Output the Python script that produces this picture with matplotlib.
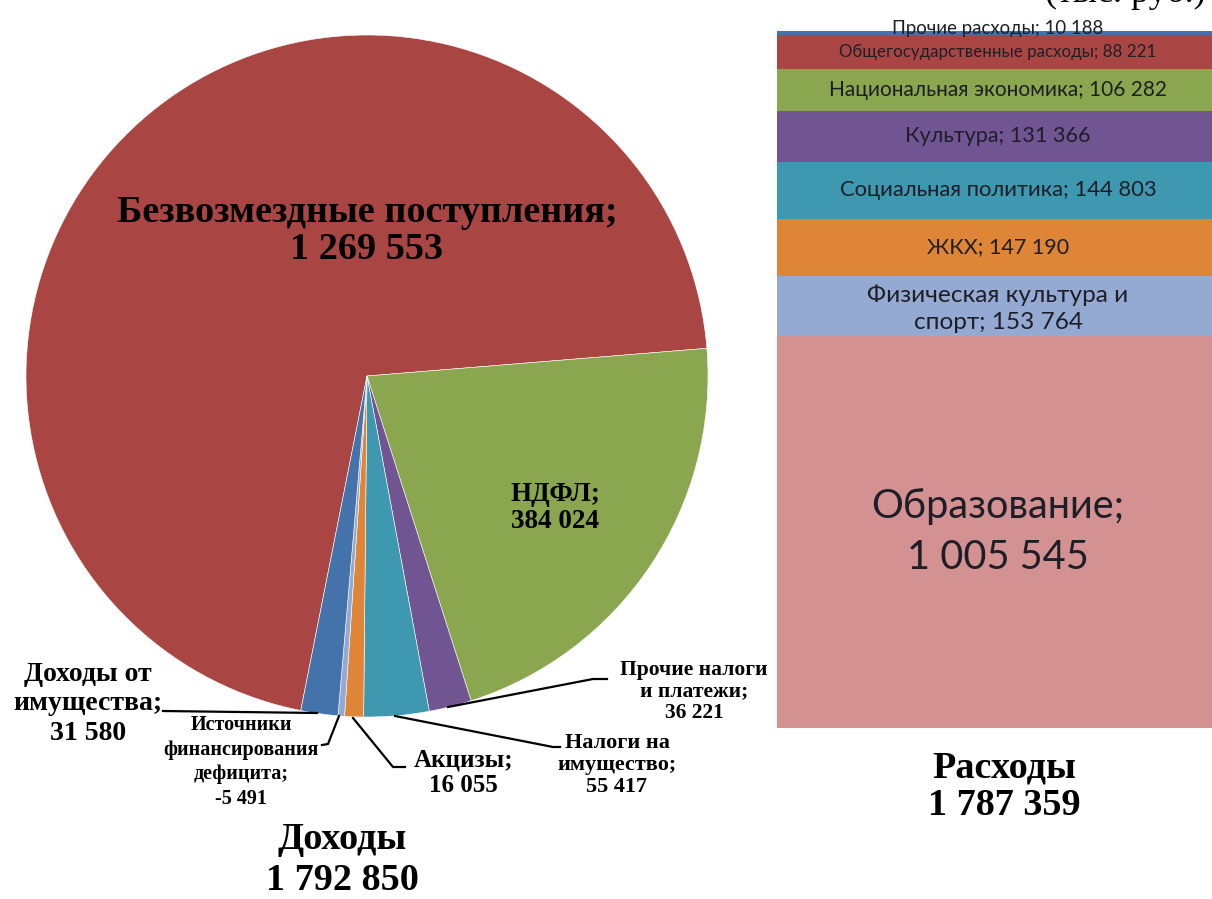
import numpy as np
import matplotlib
matplotlib.use("Agg")
import matplotlib.pyplot as plt

W, H = 1212, 899

# ---- data: income (pie) ----
inc_labels = ["Безвозмездные поступления", "НДФЛ", "Прочие налоги и платежи",
              "Налоги на имущество", "Акцизы", "Источники финансирования дефицита",
              "Доходы от имущества"]
inc_values = [1269553, 384024, 36221, 55417, 16055, -5491, 31580]
inc_colors = ["#A94643", "#8AA64F", "#705592", "#3E98AF", "#DE8538", "#93A9D3", "#4473AB"]
inc_total = 1792850

# ---- data: expenses (stacked bar, bottom to top) ----
exp_labels = ["Образование", "Физическая культура и спорт", "ЖКХ", "Социальная политика",
              "Культура", "Национальная экономика", "Общегосударственные расходы",
              "Прочие расходы"]
exp_values = [1005545, 153764, 147190, 144803, 131366, 106282, 88221, 10188]
exp_colors = ["#D39191", "#95AAD2", "#DE8538", "#3E98AF", "#705592", "#8AA64F", "#A94643", "#4473AB"]
exp_total = 1787359

def fmt(v):
    s = f"{abs(v):,}".replace(",", " ")
    return ("-" if v < 0 else "") + s

fig = plt.figure(figsize=(W / 100, H / 100), dpi=100)
fig.patch.set_facecolor("white")

# ---- pie ----
cx, cy, r = 367, 376, 341
axp = fig.add_axes([(cx - r) / W, (H - cy - r) / H, 2 * r / W, 2 * r / H])
axp.pie(np.abs(inc_values), colors=inc_colors, startangle=258.8, counterclock=False,
        radius=1, wedgeprops=dict(edgecolor="white", linewidth=0.4))
axp.set_xlim(-1, 1)
axp.set_ylim(-1, 1)
axp.set_aspect("equal")
axp.axis("off")

# ---- stacked bar ----
bx0, bx1, by0, by1 = 777, 1219, 31, 728
axb = fig.add_axes([bx0 / W, (H - by1) / H, (bx1 - bx0) / W, (by1 - by0) / H])
bottoms = np.concatenate([[0], np.cumsum(exp_values)[:-1]])
axb.bar([0] * len(exp_values), exp_values, bottom=bottoms, width=1.0,
        color=exp_colors, edgecolor="none")
axb.set_xlim(-0.5, 0.5)
axb.set_ylim(0, sum(exp_values))
axb.axis("off")

sans = ["Lato", "DejaVu Sans"]
txtc = "#1E1E28"
sizes_bar = [28.6, 17.6, 15.5, 15.8, 15.6, 15.0, 12.2, 13.4]
for i, (lab, v, b) in enumerate(zip(exp_labels, exp_values, bottoms)):
    if i == 0:
        t = f"{lab};\n{fmt(v)}"
    elif i == 1:
        t = f"Физическая культура и\nспорт; {fmt(v)}"
    else:
        t = f"{lab}; {fmt(v)}"
    if i == len(exp_values) - 1:
        axb.annotate(t, xy=(0, b + v), xytext=(0, 1.5), textcoords="offset points",
                     ha="center", va="center", fontsize=sizes_bar[i], family=sans,
                     color=txtc, annotation_clip=False)
    else:
        axb.text(0, b + v / 2 + (-0.004 * exp_total if i == 1 else 0), t,
                 ha="center", va="center", fontsize=sizes_bar[i],
                 family=sans, color=txtc, linespacing=1.47 if i == 0 else 1.38)

# ---- overlay for pie labels ----
ov = fig.add_axes([0, 0, 1, 1])
ov.set_xlim(0, W)
ov.set_ylim(H, 0)
ov.axis("off")
serif = ["Liberation Serif", "DejaVu Serif"]

def T(x, y, s, size, ls=1.2):
    ov.text(x, y, s, ha="center", va="center", fontsize=size, family=serif,
            fontweight="bold", color="black", linespacing=ls)

T(367, 231, f"{inc_labels[0]};\n{fmt(inc_values[0])}", 27.5, 1.1)
T(555, 508, f"{inc_labels[1]};\n{fmt(inc_values[1])}", 19.5, 1.15)
T(694, 691, f"Прочие налоги\nи платежи;\n{fmt(inc_values[2])}", 15.5, 1.1)
T(617, 765, f"Налоги на\nимущество;\n{fmt(inc_values[3])}", 16, 1.1)
T(463, 773, f"{inc_labels[4]};\n{fmt(inc_values[4])}", 18, 1.15)
T(241, 762, f"Источники\nфинансирования\nдефицита;\n{fmt(inc_values[5])}", 14.5, 1.32)
T(88, 704, f"Доходы от\nимущества;\n{fmt(inc_values[6])}", 20, 1.25)

T(342, 860, f"Доходы\n{fmt(inc_total)}", 27.5, 1.25)
T(1004, 787, f"Расходы\n{fmt(exp_total)}", 27.5, 1.1)

ov.text(1045, 2, "(тыс. руб.)", ha="left", va="baseline", fontsize=26, family=serif,
        color="black")

# leader lines
lw = 1.6
ov.plot([448, 593, 607], [707, 679, 679], color="black", lw=lw)
ov.plot([395, 553, 560], [716, 747, 747], color="black", lw=lw)
ov.plot([353, 393, 405], [718, 767, 767], color="black", lw=lw)
ov.plot([339, 328, 322], [716, 744, 745], color="black", lw=lw)
ov.plot([317, 163], [713, 711], color="black", lw=lw)

fig.savefig("out.png", dpi=100, facecolor="white")
